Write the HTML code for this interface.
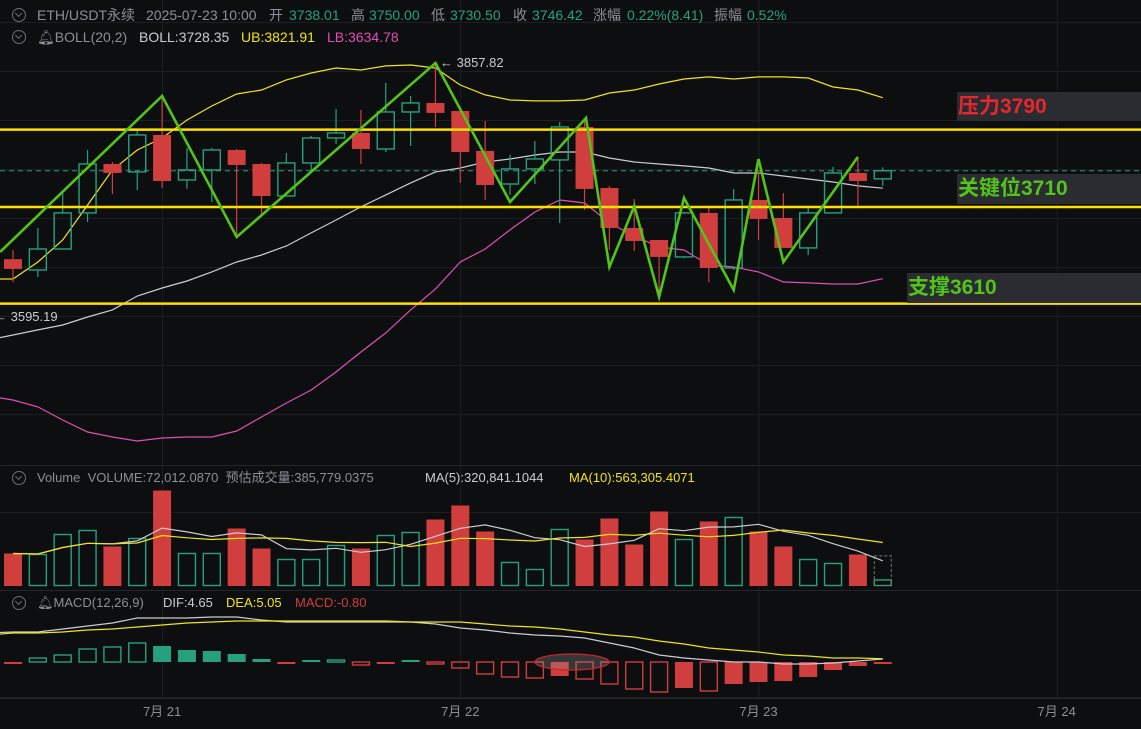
<!DOCTYPE html>
<html><head><meta charset="utf-8">
<style>
html,body{margin:0;padding:0;background:#0d0e10;}
#wrap{position:relative;width:1141px;height:729px;overflow:hidden;background:#0d0e10;font-family:"Liberation Sans","Noto Sans CJK SC",sans-serif;}
.t{position:absolute;font-size:13px;white-space:nowrap;line-height:16px;}
.h{font-size:14px;}
.g{color:#8b8f97}.w{color:#c9ccd2}.up{color:#26a17f}.y{color:#f2e31b}.m{color:#e04fb5}.r{color:#d03e3e}
.ico{position:absolute;width:14px;height:14px;border:1px solid #6b6f77;border-radius:50%;box-sizing:border-box;}
.ico:after{content:"";position:absolute;left:3px;top:2px;width:4px;height:4px;border-right:1px solid #6b6f77;border-bottom:1px solid #6b6f77;transform:rotate(45deg);}
.lab{position:absolute;background:#2a2c31;font-weight:bold;font-size:21px;line-height:30px;padding-left:1px;}
</style></head>
<body>
<div id="wrap">
<svg id="svg" width="1141" height="729" style="position:absolute;left:0;top:0"></svg>

<div class="ico" style="left:12px;top:8px"></div>
<div class="t h g" style="left:37px;top:7px">ETH/USDT永续</div>
<div class="t h g" style="left:146px;top:7px">2025-07-23 10:00</div>
<div class="t h g" style="left:269px;top:7px">开</div>
<div class="t h up" style="left:289px;top:7px">3738.01</div>
<div class="t h g" style="left:351px;top:7px">高</div>
<div class="t h up" style="left:369px;top:7px">3750.00</div>
<div class="t h g" style="left:431px;top:7px">低</div>
<div class="t h up" style="left:450px;top:7px">3730.50</div>
<div class="t h g" style="left:513px;top:7px">收</div>
<div class="t h up" style="left:532px;top:7px">3746.42</div>
<div class="t h g" style="left:593px;top:7px">涨幅</div>
<div class="t h up" style="left:627px;top:7px">0.22%(8.41)</div>
<div class="t h g" style="left:714px;top:7px">振幅</div>
<div class="t h up" style="left:747px;top:7px">0.52%</div>

<div class="ico" style="left:12px;top:30px"></div>
<div class="t h g" style="left:37px;top:29px">&#x1F514;&#xFE0E;BOLL(20,2)</div>
<div class="t h w" style="left:139px;top:29px">BOLL:3728.35</div>
<div class="t h y" style="left:241px;top:29px">UB:3821.91</div>
<div class="t h m" style="left:327px;top:29px">LB:3634.78</div>

<div class="lab" style="left:957px;top:92px;width:184px;height:29px;color:#e8262e">压力3790</div>
<div class="lab" style="left:957px;top:174px;width:184px;height:30px;color:#52c41a">关键位3710</div>
<div class="lab" style="left:907px;top:273px;width:234px;height:30px;color:#52c41a">支撑3610</div>

<div class="t w" style="left:440px;top:55px">← 3857.82</div>
<div class="t w" style="left:-6px;top:309px">← 3595.19</div>

<div class="ico" style="left:12px;top:471px"></div>
<div class="t g" style="left:37px;top:470px">Volume&nbsp; VOLUME:72,012.0870&nbsp; 预估成交量:385,779.0375</div>
<div class="t w" style="left:425px;top:470px">MA(5):320,841.1044</div>
<div class="t y" style="left:569px;top:470px">MA(10):563,305.4071</div>

<div class="ico" style="left:12px;top:596px"></div>
<div class="t g" style="left:37px;top:595px">&#x1F514;&#xFE0E;MACD(12,26,9)</div>
<div class="t w" style="left:163px;top:595px">DIF:4.65</div>
<div class="t y" style="left:226px;top:595px">DEA:5.05</div>
<div class="t r" style="left:295px;top:595px">MACD:-0.80</div>
</div>

<script>
const opens=[3655,3643.8,3665.5,3702.8,3753.4,3745.2,3783.4,3736.9,3747.2,3767.9,3753.4,3720.3,3754.5,3780.3,3785.5,3768.9,3807.2,3816.5,3808.2,3766.9,3732.7,3748.3,3757.6,3791.7,3728.6,3687.2,3674.8,3657.3,3702.8,3645.9,3716.2,3697.6,3666.6,3702.8,3744.1,3738.01];
const highs=[3664.5,3687.2,3723.4,3767.9,3755.5,3788.6,3824.8,3770,3770,3769,3754.5,3764.8,3782.4,3810.3,3809.3,3837.2,3823.7,3857.82,3811.3,3797.9,3762.7,3777.2,3796.9,3798.9,3730.7,3717.2,3674.8,3703.8,3707.9,3727.6,3747.2,3723.4,3707.9,3750.3,3759.6,3750];
const lows=[3631.4,3636.6,3665,3693.5,3722.4,3726.5,3728.6,3727.6,3714.1,3679,3701.7,3720.3,3745.2,3774.1,3753.4,3765.8,3772,3791.7,3733.8,3716.2,3721.4,3732.7,3692.4,3705.9,3664.5,3663.5,3616.9,3656,3631.4,3643.8,3674.8,3666.6,3659.3,3702.8,3710,3730.5];
const closes=[3644.9,3665.5,3702.8,3753.4,3744.1,3783.4,3735.8,3747.2,3767.9,3752.4,3720.3,3754.5,3780.3,3785.5,3768.9,3807.2,3816.5,3806.2,3765.8,3731.7,3748.3,3758.6,3791.7,3727.6,3687.2,3673.8,3657.3,3702.8,3645.9,3716.2,3696.6,3666.6,3702.8,3744.1,3735.8,3746.42];
// BOLL values start at index -1
const bollUp=[3634.5,3634.5,3652.1,3674.8,3711,3747.2,3767.9,3780.3,3798.9,3813.4,3825.8,3829.9,3840.3,3847.5,3852.7,3850.6,3854.8,3855.8,3852.7,3835.1,3824.8,3819.6,3818.6,3818.6,3819.6,3826.8,3829.9,3836.1,3841.3,3843.4,3841.3,3843.4,3843.4,3842.3,3833,3829.9,3821.91];
const bollMid=[3571.4,3576.6,3581.8,3586.9,3595.2,3602.5,3616.9,3625.2,3632.4,3641.8,3652.1,3659.3,3668.6,3682.1,3695.5,3709,3721.4,3733.8,3745.2,3749.3,3755.5,3758.6,3762.7,3765.8,3765.8,3759.6,3755.5,3753.4,3751.4,3749.3,3744.1,3744.1,3741,3737.9,3734.8,3730.7,3728.35];
const bollLow=[3513.5,3509.4,3502.2,3488.7,3476.3,3471.1,3467,3470.1,3471.1,3471.1,3477.3,3491.8,3506.3,3519.7,3538.4,3559,3578.7,3602.5,3624.2,3652.1,3665.5,3685.2,3703.8,3716.2,3713.1,3692.4,3679,3667.6,3664.5,3649,3646.9,3641.8,3631.4,3630.4,3629.3,3629.3,3634.78];
const levels=[3790,3710,3610];
const zigIdx=[-0.52,6,9,17,20,23.06,24,25,26,27,29,30,31,34];
const zigPrice=[3662.4,3823.7,3677.9,3857.8,3714.1,3801,3646.9,3710,3615.9,3718.3,3623.1,3758.6,3652.1,3760.7];
const volumes=[416,403,663,715,507,611,1235,416,416,741,481,338,338,520,481,650,689,858,1040,702,299,208,728,598,871,533,962,598,832,884,702,507,338,286,403,72];
const volEstimate=385.8;
const difs=[45,46.5,46.5,51.2,55.8,60.5,68.2,68.2,68.2,69.8,69.8,65.1,62,62,62,62,62,62,58.9,52.7,49.6,45,41.9,40.3,37.2,29.5,21.7,10.9,6.2,3.1,0,0,-3.1,-3.1,-1.6,1.6,4.65];
const deas=[41.9,45,45,46.5,49.6,51.2,54.3,57.4,60.5,62,63.6,63.6,63.6,63.6,63.6,63.6,63.6,62,62,62,58.9,55.8,54.3,51.2,46.5,41.9,38.8,32.6,27.9,21.7,18.6,15.5,10.9,9.3,6.2,6.2,5.05];
const hist=[-0.8,1.6,2.8,5.2,6,7.6,6.4,4.8,4.4,3.2,1.2,-0.8,0.4,0.4,-1.2,-0.8,0.4,-0.8,-2.4,-4.8,-6,-6.4,-5.6,-6.8,-8.8,-10.8,-12,-10.4,-11.6,-8.8,-8,-7.6,-6,-3.2,-1.6,-0.8];
const dateLabels=["7月 21","7月 22","7月 23","7月 24"];
const dateIdx=[6,18,30,42];

const NS="http://www.w3.org/2000/svg";
const svg=document.getElementById('svg');
const UP="#26a17f",DN="#d03e3e";
const X=i=>13+i*24.85;
const Y=p=>63+(3857.82-p)/1.034;
const VY=v=>585.5-v/13;
const MY=v=>662-v/1.55;
const HY=v=>662-v/0.4;
function el(tag,a,parent){const e=document.createElementNS(NS,tag);for(const k in a)e.setAttribute(k,a[k]);(parent||svg).appendChild(e);return e;}

const grid=el('g',{stroke:'#1c1e22','stroke-width':1});


[22,71,120,169,218,267,316,365,414,512,697].forEach(y=>el('line',{x1:0,x2:1141,y1:y+.5,y2:y+.5},grid));
dateIdx.forEach(i=>el('line',{x1:X(i)+.5,x2:X(i)+.5,y1:0,y2:698},grid));
el('line',{x1:0,x2:1141,y1:465.5,y2:465.5,stroke:'#24262b'});
el('line',{x1:0,x2:1141,y1:590.5,y2:590.5,stroke:'#24262b'});
el('line',{x1:0,x2:1141,y1:698.5,y2:698.5,stroke:'#24262b'});

function poly(vals,fy,start,color,w,name){
  const pts=vals.map((v,k)=>X(k+start).toFixed(1)+','+fy(v).toFixed(1)).join(' ');
  const p=el('polyline',{points:pts,fill:'none',stroke:color,'stroke-width':w});
  
  
  return p;
}
const cp=el('line',{x1:0,x2:1141,y1:Y(closes[35]),y2:Y(closes[35]),stroke:UP,'stroke-dasharray':'5,4','stroke-width':1});



poly(bollUp,Y,-1,'#f2e31b',1.2,'boll-upper-band');
poly(bollMid,Y,-1,'#c9ccd2',1.2,'boll-middle-band');
poly(bollLow,Y,-1,'#e04fb5',1.2,'boll-lower-band');

for(let i=0;i<opens.length;i++){
  const up=closes[i]>=opens[i],c=up?UP:DN,x=X(i);
  const g=el('g',{});
  
  
  const top=Y(Math.max(opens[i],closes[i])),bot=Y(Math.min(opens[i],closes[i]));
  el('line',{x1:x,x2:x,y1:Y(highs[i]),y2:top,stroke:c,'stroke-width':1.2},g);
  el('line',{x1:x,x2:x,y1:bot,y2:Y(lows[i]),stroke:c,'stroke-width':1.2},g);
  if(up) el('rect',{x:x-8.5,y:top,width:17,height:Math.max(bot-top,1),fill:'none',stroke:c,'stroke-width':1.4},g);
  else el('rect',{x:x-9,y:top,width:18,height:Math.max(bot-top,1),fill:c},g);
}
levels.forEach(l=>{const ln=el('line',{x1:0,x2:1141,y1:Y(l)+1,y2:Y(l)+1,stroke:'#ffdf00','stroke-width':2.5});
  
  });
const zz=el('polyline',{points:zigIdx.map((v,k)=>X(v).toFixed(1)+','+Y(zigPrice[k]).toFixed(1)).join(' '),fill:'none',stroke:'#52c41a','stroke-width':2.6,'stroke-linejoin':'miter'});



for(let i=0;i<volumes.length;i++){
  const up=closes[i]>=opens[i],c=up?UP:DN,x=X(i),t=VY(volumes[i]);
  const r=up?el('rect',{x:x-8.5,y:t,width:17,height:585.5-t,fill:'none',stroke:c,'stroke-width':1.4}):el('rect',{x:x-9,y:t,width:18,height:586-t,fill:c});
  
  
}
const est=el('rect',{x:X(35)-8.5,y:VY(volEstimate),width:17,height:585.5-VY(volEstimate),fill:'none',stroke:'#777','stroke-dasharray':'3,2'});


function ma(n){return volumes.map((v,i)=>{const s=volumes.slice(Math.max(0,i-n+1),i+1);return s.reduce((a,b)=>a+b,0)/s.length;});}
poly(ma(5),VY,0,'#c9ccd2',1.2,'volume-ma5-line');
poly(ma(10),VY,0,'#f2e31b',1.2,'volume-ma10-line');

for(let i=0;i<hist.length;i++){
  const v=hist[i],c=v>=0?UP:DN,x=X(i);
  const shrink=i>0&&Math.abs(v)<Math.abs(hist[i-1]);
  const filled=shrink||i===0;
  const h=Math.max(Math.abs(HY(v)-662),2);
  const r=filled?el('rect',{x:x-9,y:v>=0?662-h:662,width:18,height:h,fill:c}):el('rect',{x:x-8.5,y:v>=0?662-h:662,width:17,height:h,fill:'none',stroke:c,'stroke-width':1.4});
  
  
}
poly(difs,MY,-1,'#c9ccd2',1.2,'macd-dif-line');
poly(deas,MY,-1,'#f2e31b',1.2,'macd-dea-line');
const ell=el('ellipse',{cx:572,cy:662,rx:37,ry:8,fill:'rgba(150,150,150,0.3)',stroke:'#c8262e','stroke-width':1.3});



dateLabels.forEach((d,k)=>{const t=el('text',{x:X(dateIdx[k]),y:716,fill:'#8b8f97','font-size':13,'text-anchor':'middle','font-family':'Liberation Sans, Noto Sans CJK SC, sans-serif'});
  t.textContent=d;
  
  });
</script>
</body></html>
